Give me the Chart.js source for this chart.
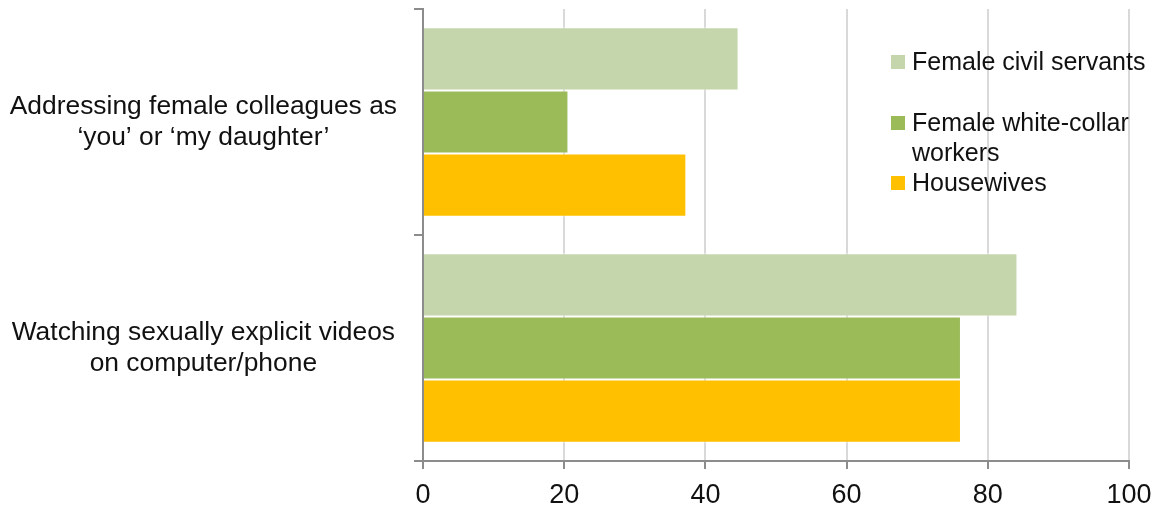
<!DOCTYPE html>
<html>
<head>
<meta charset="utf-8">
<script src="https://cdn.jsdelivr.net/npm/chart.js@4"></script>
<style>
  body { margin: 0; background: #fff; }
  #wrap { width: 1159px; height: 508px; position: relative; }
</style>
</head>
<body>
<div id="wrap"><canvas id="harass-chart"></canvas></div>
<script>
const categories = [
    ["Addressing female colleagues as", "\u2018you\u2019 or \u2018my daughter\u2019"],
    ["Watching sexually explicit videos", "on computer/phone"]
];
const seriesNames = ["Female civil servants", "Female white-collar workers", "Housewives"];
const civilServants = [44.7, 84.2];
const whiteCollar = [20.6, 76.2];
const housewives = [37.3, 76.2];
const seriesColors = ['#c5d6ad', '#9bbb59', '#ffc000'];

const axisGray = '#8c8c8c';
const gridGray = '#d9d9d9';
const fontFamily = "'Liberation Sans', Arial, sans-serif";

// legend sits inside the plot, on top of the gridlines
const legendLines = [
    ["Female civil servants"],
    ["Female white-collar", "workers"],
    ["Housewives"]
];
const legendRows = [62, 123, 183];

const insideLegend = {
    id: 'insideLegend',
    afterDraw(chart) {
        const ctx = chart.ctx;
        ctx.save();
        ctx.font = "25px " + fontFamily;
        ctx.textBaseline = 'middle';
        ctx.textAlign = 'left';
        chart.data.datasets.forEach((ds, i) => {
            const y = legendRows[i];
            ctx.fillStyle = ds.backgroundColor;
            ctx.fillRect(891, y - 7, 14, 14);
            ctx.fillStyle = '#111';
            legendLines[i].forEach((line, j) => {
                ctx.fillText(line, 912, y + 1 + j * 30);
            });
        });
        ctx.restore();
    }
};

const chartData = {
    labels: categories,
    datasets: [
        { label: seriesNames[0], data: civilServants, backgroundColor: seriesColors[0] },
        { label: seriesNames[1], data: whiteCollar, backgroundColor: seriesColors[1] },
        { label: seriesNames[2], data: housewives, backgroundColor: seriesColors[2] }
    ].map(ds => Object.assign(ds, {
        borderColor: 'rgba(255,255,255,0.55)',
        borderWidth: 1,
        categoryPercentage: 0.8375,
        barPercentage: 1
    }))
};

const chartOptions = {
    indexAxis: 'y',
    responsive: true,
    maintainAspectRatio: false,
    animation: false,
    layout: {
        padding: { top: 9, right: 30, left: 0, bottom: 0 }
    },
    scales: {
        x: {
            min: 0,
            max: 100,
            ticks: {
                stepSize: 20,
                color: '#111',
                padding: 10,
                font: { family: fontFamily, size: 27 }
            },
            grid: {
                color: ctx => ctx.tick && ctx.tick.value === 0 ? 'rgba(0,0,0,0)' : gridGray,
                lineWidth: 2,
                tickColor: axisGray,
                tickLength: 8,
                tickWidth: 2
            },
            border: { color: axisGray, width: 2 },
            afterFit(scale) {
                scale.height = 47;
                scale.paddingLeft = 0;
                scale.paddingRight = 0;
            }
        },
        y: {
            ticks: {
                color: '#111',
                padding: 17,
                crossAlign: 'center',
                font: { family: fontFamily, size: 26.4, lineHeight: 1.19 }
            },
            grid: {
                drawOnChartArea: false,
                color: axisGray,
                lineWidth: 2,
                tickLength: 9
            },
            border: { color: axisGray, width: 2 },
            afterFit(scale) {
                scale.width = 423;
                // two-line labels would otherwise push the plot down
                scale.paddingTop = 0;
                scale.paddingBottom = 0;
            }
        }
    },
    plugins: {
        legend: { display: false },
        tooltip: { enabled: false }
    }
};

new Chart(document.getElementById("harass-chart"), {
    type: 'bar',
    data: chartData,
    options: chartOptions,
    plugins: [insideLegend]
});
</script>
</body>
</html>
